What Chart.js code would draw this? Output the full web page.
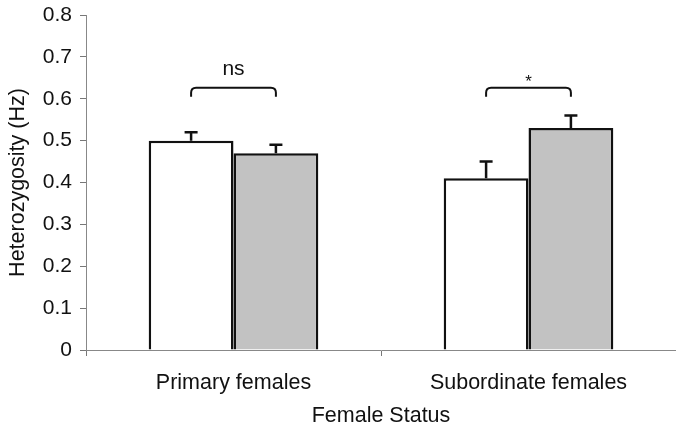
<!DOCTYPE html>
<html><head><meta charset="utf-8">
<script src="https://cdn.jsdelivr.net/npm/chart.js@4/dist/chart.umd.min.js"></script>
<style>html,body{margin:0;padding:0;background:#fff}#wrap{width:676px;height:429px}</style>
</head><body><div id="wrap"><canvas id="c" width="676" height="429"></canvas></div>
<script>
const categories = ['Primary females', 'Subordinate females'];
const seriesA = [0.50, 0.41];
const seriesB = [0.47, 0.53];
const errA = [0.02, 0.04];
const errB = [0.02, 0.03];
const bracketLevels = [0.626, 0.626];
const bracketLabels = ['ns', '*'];
const yTicks = [0, 0.1, 0.2, 0.3, 0.4, 0.5, 0.6, 0.7, 0.8];
const FONT = '"Liberation Sans", Arial, Helvetica, sans-serif';

const errPlugin = {
  id: 'errs',
  afterDatasetsDraw(chart) {
    const ctx = chart.ctx, y = chart.scales.y;
    const errs = [errA, errB];
    ctx.save();
    ctx.strokeStyle = '#111'; ctx.lineWidth = 2.5;
    chart.data.datasets.forEach((ds, i) => {
      const meta = chart.getDatasetMeta(i);
      meta.data.forEach((bar, j) => {
        const top = y.getPixelForValue(ds.data[j]);
        const e = y.getPixelForValue(ds.data[j] + errs[i][j]);
        ctx.beginPath();
        ctx.moveTo(bar.x, top); ctx.lineTo(bar.x, e);
        ctx.moveTo(bar.x - 6.5, e); ctx.lineTo(bar.x + 6.5, e);
        ctx.stroke();
      });
    });
    ctx.lineWidth = 2;
    categories.forEach((c, j) => {
      const x1 = chart.getDatasetMeta(0).data[j].x;
      const x2 = chart.getDatasetMeta(1).data[j].x;
      const by = y.getPixelForValue(bracketLevels[j]);
      const r = 5, d = 9;
      ctx.beginPath();
      ctx.moveTo(x1, by + d);
      ctx.lineTo(x1, by + r);
      ctx.quadraticCurveTo(x1, by, x1 + r, by);
      ctx.lineTo(x2 - r, by);
      ctx.quadraticCurveTo(x2, by, x2, by + r);
      ctx.lineTo(x2, by + d);
      ctx.stroke();
      ctx.fillStyle = '#111';
      ctx.textAlign = 'center';
      ctx.textBaseline = 'alphabetic';
      if (bracketLabels[j] === '*') {
        ctx.font = '17px ' + FONT;
        ctx.fillText(bracketLabels[j], (x1 + x2) / 2, by - 1);
      } else {
        ctx.font = '21px ' + FONT;
        ctx.fillText(bracketLabels[j], (x1 + x2) / 2, by - 13);
      }
    });
    ctx.restore();
  }
};

new Chart(document.getElementById('c'), {
  type: 'bar',
  data: {
    labels: categories,
    datasets: [
      { data: seriesA, backgroundColor: '#ffffff', borderColor: '#111', borderWidth: 2.5, borderSkipped: 'bottom' },
      { data: seriesB, backgroundColor: '#c2c2c2', borderColor: '#111', borderWidth: 2.5, borderSkipped: 'bottom' }
    ]
  },
  options: {
    responsive: false, animation: false,
    devicePixelRatio: 1,
    layout: { padding: { top: 15, right: 0, left: 0, bottom: 0 } },
    plugins: { legend: { display: false }, tooltip: { enabled: false } },
    datasets: { bar: { categoryPercentage: 0.575, barPercentage: 1.0 } },
    scales: {
      x: {
        offset: true,
        grid: { display: true, offset: true, drawOnChartArea: false, drawTicks: true, tickLength: 6, color: '#777' },
        border: { display: true, color: '#888', width: 1 },
        ticks: { color: '#111', font: { family: FONT, size: 21.5 }, padding: 14, maxRotation: 0 },
        title: { display: true, text: 'Female Status', color: '#111', font: { family: FONT, size: 21.5 }, padding: { top: 12, bottom: 0 } },
        afterFit(s) { s.height = 79; s.paddingLeft = 0; s.paddingRight = 0; }
      },
      y: {
        min: 0, max: 0.8,
        afterBuildTicks(s) { s.ticks = yTicks.map(v => ({ value: v })); },
        grid: { display: true, drawOnChartArea: false, drawTicks: true, tickLength: 6, color: '#777' },
        border: { display: true, color: '#888', width: 1 },
        ticks: { color: '#111', font: { family: FONT, size: 21 }, padding: 8,
          callback: v => (v === 0 ? '0' : v.toFixed(1)) },
        title: { display: true, text: 'Heterozygosity (Hz)', color: '#111', font: { family: FONT, size: 21.5 }, padding: { top: 5, bottom: 4 } },
        afterFit(s) { s.width = 86; s.paddingTop = 0; s.paddingBottom = 0; }
      }
    }
  },
  plugins: [errPlugin]
});
</script></body></html>
